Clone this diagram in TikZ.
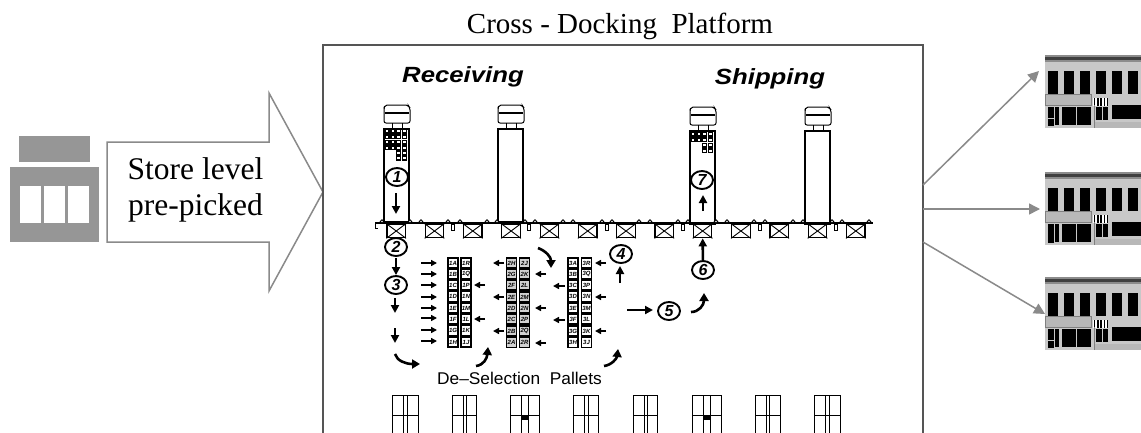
\documentclass[tikz,border=0pt]{standalone}
\usepackage{fontspec}
\usepackage{graphicx}
\setmainfont{Liberation Serif}
\setsansfont{Liberation Sans}
\usetikzlibrary{arrows.meta,shapes.geometric}
\definecolor{framegray}{HTML}{555555}
\definecolor{arrowgray}{HTML}{8A8A8A}
\definecolor{storegray}{HTML}{969696}
\definecolor{bldlight}{HTML}{C8C8C8}
\definecolor{bldmid}{HTML}{B8B8B8}
\tikzset{
  x=1pt,y=-1pt,
  framebox/.style={draw=framegray,line width=2pt},
  bigarrow/.style={draw=arrowgray,line width=1.5pt,line join=miter},
  grayarrow/.style={draw=arrowgray,line width=1.5pt,-{Triangle[length=11pt,width=11pt]},fill=arrowgray},
  inkarrow/.style={draw=black,line width=2.6pt,-{Triangle[length=8pt,width=8pt]}},
  smallarrow/.style={draw=black,line width=1.7pt,-{Triangle[length=6pt,width=6pt]}},
  curvearrow/.style={draw=black,line width=2.6pt,-{Triangle[length=8pt,width=9pt]}},
  numcirc/.style={draw=black,ellipse,line width=1.9pt,minimum width=22pt,minimum height=18pt,inner sep=0pt,
    font=\fontsize{16}{16}\selectfont\sffamily\itshape\bfseries},
  cell/.style={draw=black,line width=1.2pt,minimum size=10pt,inner sep=0pt,
    font=\fontsize{6}{6}\selectfont\sffamily\bfseries\itshape},
  inkline/.style={draw=black,line width=1pt},
  serifbig/.style={font=\fontsize{31.5}{36}\selectfont,align=center,inner sep=0pt},
  titletext/.style={font=\fontsize{29}{30}\selectfont,inner sep=0pt},
  headtext/.style={font=\fontsize{22}{23}\selectfont\sffamily\itshape\bfseries,inner sep=0pt},
}
\newcommand{\mybldg}[2]{%
  \begin{scope}[shift={(0,#1-55)}]
    \fill[bldlight] (1045,55) rectangle (1141,128);
    \fill[black!75] (1045,57) rectangle (1141,60);
    \fill[black!45] (1045,55) rectangle (1141,57);
    \fill[black!45] (1045,60) rectangle (1141,62);
    \foreach \wx in {1048,1064,1080,1096,1112,1128}
      \fill[black] (\wx,71) rectangle (\wx+10,94);
    \fill[bldmid,draw=black!50,line width=.7pt] (1045,94) rectangle (1091,105);
    \fill[white] (1093,98) rectangle (1108,106);
    \foreach \sx in {1094,1097.2,1100.4,1103.6,1106.8}
      \fill[black] (\sx,98) rectangle (\sx+1.4,106);
    \fill[black] (1048,107) rectangle (1054,126);
    \fill[black] (1055,107) rectangle (1059,125);
    \fill[black] (1062,107) rectangle (1076,125);
    \fill[black] (1076.8,107) rectangle (1091,125);
    #2
    \fill[black] (1096,107) rectangle (1102,120);
    \fill[black] (1103,107) rectangle (1108,120);
    \fill[black] (1112,105) rectangle (1141,119);
    \fill[bldmid] (1094,122) rectangle (1141,128);
    \draw[black!50,line width=1pt] (1094,105) -- (1094,128);
  \end{scope}}
\newcommand{\mytruck}[2]{%
  \begin{scope}[shift={(#1,#2)}]
    \draw[inkline,rounded corners=2pt] (1,0) -- (24,0) -- (26,3) -- (26,18) -- (0,18) -- (0,3) -- cycle;
    \draw[inkline,line width=1.3pt] (1,8) -- (25,8);
    \draw[inkline] (8,18) -- (8,23) (18,18) -- (18,23);
    \draw[inkline,line width=1.3pt] (0,24) rectangle (25,117);
  \end{scope}}
\newcommand{\myload}[3]{%
  \foreach \cx/\cy in {#3}
    \draw[black,line width=1.6pt] (#1+\cx*5.8,#2+\cy*5.4) rectangle +(4,3.6);}
\begin{document}
\begin{tikzpicture}
\useasboundingbox (0,0) rectangle (1141,432);
\begin{scope}
\clip (0,0) rectangle (1141,432);
\fill[white] (0,0) rectangle (1141,432);

% left store icon
\fill[storegray] (19,136) rectangle (90,162);
\fill[storegray] (10,167) rectangle (99,242);
\fill[white] (20,186) rectangle (41,223);
\fill[white] (44,186) rectangle (65,223);
\fill[white] (68,186) rectangle (89,223);

% big arrow
\draw[bigarrow] (107,142) -- (269,142) -- (269,93) -- (323,192) -- (269,291) -- (269,242) -- (107,242) -- cycle;
\node[serifbig] (storetext) at (195.5,190) {Store level\\pre-picked};

% platform
\draw[framebox] (323,440) -- (323,45) -- (923,45) -- (923,440);
\node[titletext,anchor=base] (title) at (620,33) {Cross - Docking\ \ Platform};
\node[headtext] (recv) at (463,77) {\scalebox{1.17}[1]{Receiving}};
\node[headtext] (ship) at (770,79) {\scalebox{1.17}[1]{Shipping}};

% trucks
\mytruck{384}{105}
\mytruck{498}{105}
\mytruck{690}{107}
\mytruck{805}{107}
\myload{385}{129.5}{0/0,1/0,2/0,3/0,0/1,1/1,2/1,3/1,0/2,1/2,2/2,3/2,0/3,1/3,2/3,3/3,2/4,3/4,2/5,3/5}
\myload{691}{132.5}{0/0,1/0,2/0,3/0,0/1,1/1,2/1,3/1,2/2,3/2,2/3,3/3}

% dock
\draw[black,line width=1.5pt] (375,223) -- (873,223);
\draw[inkline] (375,223) -- (375,228) -- (378,228);
\foreach \bx in {382,410,421,448,460,487,497,525,535,563,573,602,612,639,650,678,688,716,727,754,765,793,803,832,842,869}
  \draw[black,line width=.9pt,fill=white] (\bx,221.5) circle[radius=1.7];
\foreach \bx in {453,529,607,683,760,836}
  \draw[black,line width=.9pt] (\bx-1.5,224) rectangle (\bx+1.5,230);
\foreach \i [evaluate=\i as \dx using 387+(\i-1)*38.3] in {1,...,13}{
  \node[draw=black,line width=1.2pt,minimum width=18.5pt,minimum height=13.5pt,inner sep=0pt] (dock\i) at (\dx+9.2,231) {};
  \draw[black,line width=.9pt] (dock\i.north west) -- (dock\i.south east) (dock\i.north east) -- (dock\i.south west);
}

% pallets
\foreach \cl/\cr/\yy in {1A/1R/263,1B/1Q/274,1C/1P/285,1D/1N/296.5,1E/1M/308,1F/1L/319,1G/1K/330.5,1H/1J/342}{
  \node[cell] (a\cl) at (453,\yy) {\cl};
  \node[cell] (a\cr) at (466,\yy) {\cr};
}
\foreach \cl/\cr/\yy in {2H/2J/263,2G/2K/274,2F/2L/285,2E/2M/297,2D/2N/308,2C/2P/319,2B/2Q/331,2A/2R/342.5}{
  \node[cell,fill=black!18] (a\cl) at (511.5,\yy) {\cl};
  \node[cell,fill=black!18] (a\cr) at (524.5,\yy) {\cr};
}
\foreach \cl/\cr/\yy in {3A/3R/263,3B/3Q/274,3C/3P/285,3D/3N/296.5,3E/3M/308,3F/3L/319,3G/3K/331,3H/3J/342.5}{
  \node[cell] (a\cl) at (573,\yy) {\cl};
  \node[cell] (a\cr) at (586.5,\yy) {\cr};
}

% row arrows
\foreach \yy in {263,274,285,297,308,318,330,341}
  \draw[smallarrow] (421,\yy) -- (437,\yy);
\foreach \xa/\xb/\yy in {485/474/285,485/474/319,504/493/263,504/493/297,504/493/331,546/535/274,546/535/308,546/535/343,565/553/286,565/553/320,606/595/263,606/595/297,606/595/331}
  \draw[smallarrow] (\xa,\yy) -- (\xb,\yy);

% numbered circles
\node[numcirc] (n1) at (397,177) {1};
\node[numcirc] (n2) at (396,247) {2};
\node[numcirc] (n3) at (396,285) {3};
\node[numcirc] (n4) at (621,254) {4};
\node[numcirc] (n5) at (669,311) {5};
\node[numcirc] (n6) at (703,270) {6};
\node[numcirc] (n7) at (702,180) {7};

% ink arrows
\draw[inkarrow,shorten <=1pt] (n2) -- (n3);
\draw[inkarrow] (396,193) -- (396,214);
\draw[inkarrow] (703,211) -- (703,195);
\draw[inkarrow] (395,298) -- (395,313);
\draw[inkarrow] (395,328) -- (395,343);
\draw[inkarrow] (620,283) -- (620,266);
\draw[inkarrow] (627,310) -- (653,310);
\draw[inkarrow] (n6) -- (dock9);
\draw[curvearrow] (395,354) .. controls (397,361) and (406,364) .. (420,364);
\draw[curvearrow] (476,366) .. controls (484,365) and (487,358) .. (488,347);
\draw[curvearrow] (604,366) .. controls (612,365) and (617,358) .. (618,349);
\draw[curvearrow] (538,248) .. controls (546,251) and (551,257) .. (551,268);
\draw[curvearrow] (691,312) .. controls (699,312) and (704,305) .. (704,293);

\node[inner sep=0pt,font=\fontsize{17}{18}\selectfont\sffamily] (desel) at (519.5,378) {\scalebox{1.02}[1]{De--Selection\ \ Pallets}};

% bottom pallets
\foreach \xa/\xb/\la/\lb in {392/418/403/407,452/476/463/466,510/539/521/528,573/598/584/588,633/657/644/647,692/721/703/710,755/780/766/769,814/840/825/829}{
  \draw[inkline] (\xa,395) rectangle (\xb,440);
  \draw[inkline] (\la,395) -- (\la,440) (\lb,395) -- (\lb,440);
  \draw[inkline] (\xa,415.5) -- (\xb,415.5);
}
\fill[black] (521,415) rectangle (528,420);
\fill[black] (703,415) rectangle (710,420);

% right arrows
\coordinate (ra1) at (923,185); \coordinate (rb1) at (1039,71);
\coordinate (ra2) at (923,209); \coordinate (rb2) at (1040,209);
\coordinate (ra3) at (923,242); \coordinate (rb3) at (1045,314);
\draw[grayarrow] (ra1) -- (rb1);
\draw[grayarrow] (ra2) -- (rb2);
\draw[grayarrow] (ra3) -- (rb3);

% buildings
\mybldg{55}{\fill[bldlight] (1048,118) rectangle (1054,119);}
\mybldg{172}{}
\mybldg{277}{\fill[bldlight] (1048,118) rectangle (1054,119);}
\end{scope}
\end{tikzpicture}
\end{document}
